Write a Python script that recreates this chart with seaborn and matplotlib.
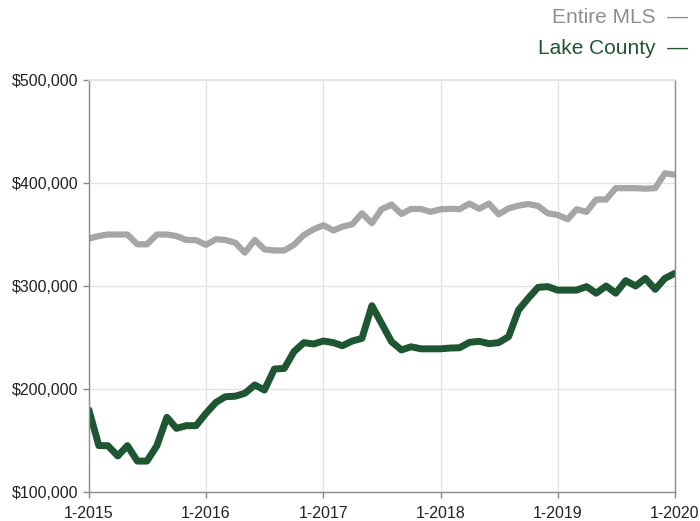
import matplotlib
matplotlib.use("Agg")
import matplotlib.pyplot as plt
import pandas as pd
import seaborn as sns

# monthly median prices, Jan 2015 .. Jan 2020 (thousands of dollars)
months = pd.date_range("2015-01-01", "2020-01-01", freq="MS")
entire_mls = [346, 348.5, 350, 350, 350, 340.5, 340.5, 350, 350, 348.5, 344.7, 344.5,
              340, 345.4, 344.7, 342, 332.4, 344.7, 335.6, 334.5, 334.5, 340, 349.5, 355,
              359, 354, 357.6, 360, 370.6, 361, 374.5, 379, 370, 374.8, 374.8, 372,
              374.5, 375, 374.5, 380, 375, 380, 369.6, 375.4, 378, 379.6, 377.7, 370.6,
              369, 364.8, 374.5, 372, 384, 384, 395, 395, 395, 394.5, 395, 409.4,
              408]
lake_county = [179.6, 145, 145, 135, 145, 130, 130, 145, 172.5, 161.8, 164.4, 164.4,
               176.4, 187, 192.5, 193, 195.8, 203.9, 199, 219.4, 220, 236.2, 245, 243.7,
               246.6, 245, 242, 246.6, 249.2, 280.9, 263.8, 246, 237.9, 241, 239, 239,
               239, 239.8, 240, 245.3, 246.3, 244, 245, 250.8, 276.7, 288, 298.7, 299.4,
               296, 296, 296, 299.4, 293, 300, 293, 305.2, 300, 307.4, 296.8, 307.4,
               312.3]
year_ticks = pd.date_range("2015-01-01", "2020-01-01", freq="YS")
year_labels = ["1-2015", "1-2016", "1-2017", "1-2018", "1-2019", "1-2020"]
price_ticks = [100, 200, 300, 400, 500]
price_labels = ["$100,000", "$200,000", "$300,000", "$400,000", "$500,000"]

df = pd.DataFrame({"month": months, "Entire MLS": entire_mls, "Lake County": lake_county})

sns.set_theme(style="white")
plt.rcParams["font.family"] = ["Liberation Sans", "DejaVu Sans"]

gray = "#a6a6a6"
green = "#1d5630"

fig = plt.figure(figsize=(7, 5.21), dpi=100)
ax = fig.add_axes([0.127, 0.0557, 0.837, 0.7907])

sns.lineplot(data=df, x="month", y="Entire MLS", ax=ax, color=gray, linewidth=4.5)
sns.lineplot(data=df, x="month", y="Lake County", ax=ax, color=green, linewidth=5)

ax.set_xlim(months[0], months[-1])
ax.set_ylim(100, 500)
ax.set_xticks(year_ticks)
ax.set_xticklabels(year_labels, fontsize=11.5)
ax.set_yticks(price_ticks)
ax.set_yticklabels(price_labels, fontsize=11.5)
ax.set_xlabel("")
ax.set_ylabel("")
ax.grid(True, color="#e3e3e3", linewidth=1)
ax.set_axisbelow(True)
ax.tick_params(axis="both", which="both", length=4, width=1, color="#888888",
               bottom=True, left=True, colors="#222222")
ax.tick_params(axis="x", pad=6)
for side in ["left", "bottom", "right"]:
    ax.spines[side].set_color("#8c8c8c")
    ax.spines[side].set_linewidth(1)
ax.spines["top"].set_color("#e3e3e3")

fig.text(0.983, 0.967, "Entire MLS  \u2014", ha="right", va="center", fontsize=15, color="#8f8f8f")
fig.text(0.983, 0.907, "Lake County  \u2014", ha="right", va="center", fontsize=15, color=green)

fig.savefig("out.png", dpi=100)
